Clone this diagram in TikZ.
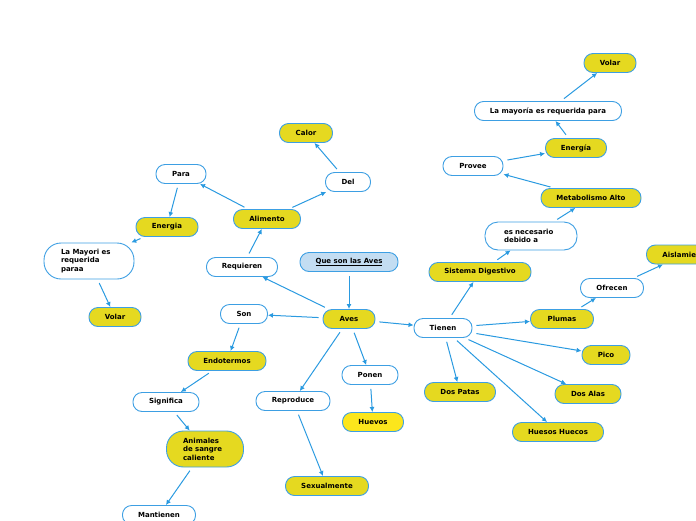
\documentclass[tikz,border=0pt]{standalone}
\usepackage{fontspec}
\setmainfont{DejaVu Sans}
\usetikzlibrary{arrows.meta}
\definecolor{bd}{HTML}{3D9FE3}
\definecolor{ar}{HTML}{2A9AE0}
\definecolor{yl}{HTML}{E5D920}
\definecolor{yl2}{HTML}{FCE61C}
\definecolor{tl}{HTML}{C3DDF2}
\tikzset{
  box/.style={draw=bd, line width=0.9pt, rounded corners=9pt, inner sep=0pt,
    minimum height=19pt, font=\fontsize{7}{8.5}\selectfont\bfseries},
  wbox/.style={box, fill=white},
  ybox/.style={box, fill=yl},
  arr/.style={draw=ar, line width=1pt, -{Latex[length=5pt,width=5pt]}, shorten <=4pt},
}
\begin{document}
\begin{tikzpicture}[x=1pt,y=-1pt]
\useasboundingbox (0,0) rectangle (696,520);
\clip (0,0) rectangle (696,520);
% central
\node[box, fill=tl, minimum width=98pt] (title) at (349,262) {\underline{Que son las Aves}};
\node[ybox, minimum width=52pt] (aves) at (349,319) {Aves};
% left upper branch
\node[wbox, minimum width=71pt] (req) at (242,267) {Requieren};
\node[ybox, minimum width=67pt] (alim) at (267,219) {Alimento};
\node[wbox, minimum width=45pt] (del) at (348,182) {Del};
\node[ybox, minimum width=53pt] (calor) at (306,133) {Calor};
\node[wbox, minimum width=50pt] (para) at (181,174) {Para};
\node[ybox, minimum width=62pt] (energL) at (167,227) {Energia};
\node[wbox, minimum width=90pt, minimum height=36pt, rounded corners=17pt, text width=56pt, align=left] (mayL) at (89,261) {La Mayori es requerida paraa};
\node[ybox, minimum width=52pt] (volarL) at (115,317) {Volar};
% left lower branch
\node[wbox, minimum width=47pt] (son) at (244,314) {Son};
\node[ybox, minimum width=78pt] (endo) at (227,361) {Endotermos};
\node[wbox, minimum width=66pt] (sig) at (166,402) {Significa};
\node[ybox, minimum width=77pt, minimum height=36pt, rounded corners=17pt, text width=44pt, align=left] (anim) at (205,449) {Animales de sangre caliente};
\node[wbox, minimum width=73pt] (mant) at (159,515) {Mantienen};
\node[wbox, minimum width=74pt] (repro) at (293,401) {Reproduce};
\node[ybox, minimum width=83pt] (sexu) at (327,486) {Sexualmente};
\node[wbox, minimum width=56pt] (ponen) at (370,375) {Ponen};
\node[box, fill=yl2, minimum width=61pt] (huevos) at (373,422) {Huevos};
% right branch
\node[wbox, minimum width=58pt] (tienen) at (443,328) {Tienen};
\node[ybox, minimum width=102pt] (sisd) at (480,272) {Sistema Digestivo};
\node[wbox, minimum width=92pt, minimum height=28pt, rounded corners=13pt, text width=54pt, align=left] (nec) at (531,236) {es necesario debido a};
\node[ybox, minimum width=100pt] (meta) at (591,198) {Metabolismo Alto};
\node[wbox, minimum width=60pt] (provee) at (473,166) {Provee};
\node[ybox, minimum width=61pt] (energR) at (576,148) {Energía};
\node[wbox, minimum width=147pt] (mayR) at (548,111) {La mayoría es requerida para};
\node[ybox, minimum width=52pt] (volarR) at (610,63) {Volar};
\node[ybox, minimum width=63pt] (plumas) at (562,319) {Plumas};
\node[wbox, minimum width=63pt] (ofrecen) at (612,288) {Ofrecen};
\node[ybox, inner xsep=16pt, anchor=west] (aisl) at (646,254.5) {Aislamiento};
\coordinate (aislin) at ([xshift=17pt]aisl.south west);
\node[ybox, minimum width=48pt] (pico) at (606,355) {Pico};
\node[ybox, minimum width=66pt] (alas) at (588,394) {Dos Alas};
\node[ybox, minimum width=91pt] (huesos) at (558,432) {Huesos Huecos};
\node[ybox, minimum width=71pt] (patas) at (460,392) {Dos Patas};
% connectors
\draw[arr] (title) -- (aves);
\draw[arr] (aves) -- (req);
\draw[arr] (req) -- (alim);
\draw[arr] (alim) -- (para);
\draw[arr] (alim) -- (del);
\draw[arr] (del) -- (calor);
\draw[arr] (para) -- (energL);
\draw[arr] (energL) -- (mayL);
\draw[arr] (mayL) -- (volarL);
\draw[arr] (aves) -- (son);
\draw[arr] (son) -- (endo);
\draw[arr] (endo) -- (sig);
\draw[arr] (sig) -- (anim);
\draw[arr] (anim) -- (mant);
\draw[arr] (aves) -- (repro);
\draw[arr] (repro) -- (sexu);
\draw[arr] (aves) -- (ponen);
\draw[arr] (ponen) -- (huevos);
\draw[arr] (aves) -- (tienen);
\draw[arr] (tienen) -- (sisd);
\draw[arr] (sisd) -- (nec);
\draw[arr] (nec) -- (meta);
\draw[arr] (meta) -- (provee);
\draw[arr] (provee) -- (energR);
\draw[arr] (energR) -- (mayR);
\draw[arr] (mayR) -- (volarR);
\draw[arr] (tienen) -- (plumas);
\draw[arr] (plumas) -- (ofrecen);
\draw[arr] (ofrecen) -- (aislin);
\draw[arr] (tienen) -- (pico);
\draw[arr] (tienen) -- (alas);
\draw[arr] (tienen) -- (huesos);
\draw[arr] (tienen) -- (patas);
\end{tikzpicture}
\end{document}
